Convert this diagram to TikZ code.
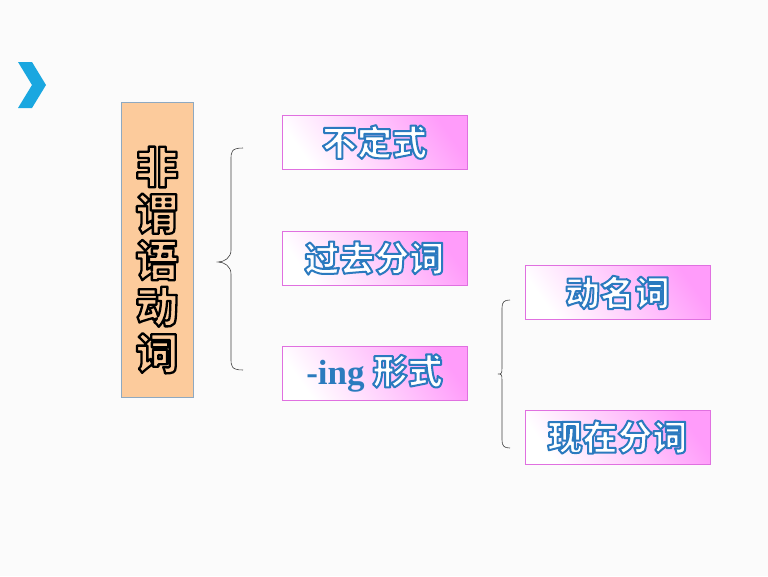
\documentclass[tikz,border=0pt]{standalone}
\usepackage{fontspec}
\setmainfont{Liberation Serif}
\newfontfamily\cjk{Noto Sans CJK SC}
\usetikzlibrary{shadings}
\definecolor{bgc}{HTML}{FBFBFB}
\definecolor{chev}{HTML}{1AA7E0}
\definecolor{peach}{HTML}{FCCB9C}
\definecolor{peachedge}{HTML}{8EA9C1}
\definecolor{pinkedge}{HTML}{E070E0}
\definecolor{pinkfill}{HTML}{FF9CFA}
\definecolor{bluetxt}{HTML}{2B7BBE}
\newcommand{\outlblue}[1]{\special{pdf:literal direct 0.17 0.48 0.75 RG 1 1 1 rg 2 Tr 2 w 1 j}#1\special{pdf:literal direct 0 Tr 0 0 0 RG 0 0 0 rg}}
\newcommand{\outlblack}[1]{\special{pdf:literal direct 0 0 0 RG 0.988 0.796 0.612 rg 2 Tr 2.3 w 1 j}#1\special{pdf:literal direct 0 Tr 0 0 0 RG 0 0 0 rg}}
\tikzset{
  pinkbox/.style={draw=pinkedge, line width=0.8pt, minimum width=185pt, minimum height=54pt,
    top color=pinkfill, bottom color=white, shading angle=-55, inner sep=0pt,
    font=\cjk\bfseries\fontsize{35}{38}\selectfont},
  bracepen/.style={draw=black!75, line width=0.6pt},
}
\begin{document}
\begin{tikzpicture}[x=1pt,y=-1pt]
\useasboundingbox[fill=bgc] (0,0) rectangle (768,576);
% chevron
\fill[chev] (18,62) -- (32,62) -- (46,85) -- (32,108) -- (18,108) -- (32,85) -- cycle;
% left box
\node[draw=peachedge, fill=peach, line width=0.8pt, minimum width=72pt, minimum height=295pt, inner sep=0pt] (main) at (157,249.5) {};
\node[align=center, inner sep=0pt, font=\cjk\bfseries\fontsize{43}{46.5}\selectfont] (maintext) at (157,260)
  {\outlblack{非}\\\outlblack{谓}\\\outlblack{语}\\\outlblack{动}\\\outlblack{词}};
% boxes
\node[pinkbox] (inf) at (374.5,142) {\outlblue{不定式}};
\node[pinkbox] (pp) at (374.5,258) {\outlblue{过去分词}};
\node[pinkbox] (ing) at (374.5,373) {{\fontspec{Liberation Serif}\bfseries\color{bluetxt}-ing} \outlblue{形式}};
\node[pinkbox] (ger) at (617.5,292.5) {\outlblue{动名词}};
\node[pinkbox] (pres) at (617.5,437) {\outlblue{现在分词}};
% braces
\coordinate (b1t) at (243,148);
\coordinate (b1b) at (243,370);
\coordinate (b2t) at (510,300);
\coordinate (b2b) at (510,448);
\draw[bracepen] (b1b) .. controls +(-12,0) and +(0,8) .. (231,358) -- (231,274) .. controls +(0,-8) and +(6,0) .. (218,262)
  .. controls +(6,0) and +(0,8) .. (231,250) -- (231,160) .. controls +(0,-8) and +(-12,0) .. (b1t);
\draw[bracepen] (b2b) .. controls +(-6,0) and +(0,6) .. (502,440) -- (502,380) .. controls +(0,-6) and +(3,0) .. (498,374)
  .. controls +(3,0) and +(0,6) .. (502,368) -- (502,308) .. controls +(0,-6) and +(-6,0) .. (b2t);
\end{tikzpicture}
\end{document}
